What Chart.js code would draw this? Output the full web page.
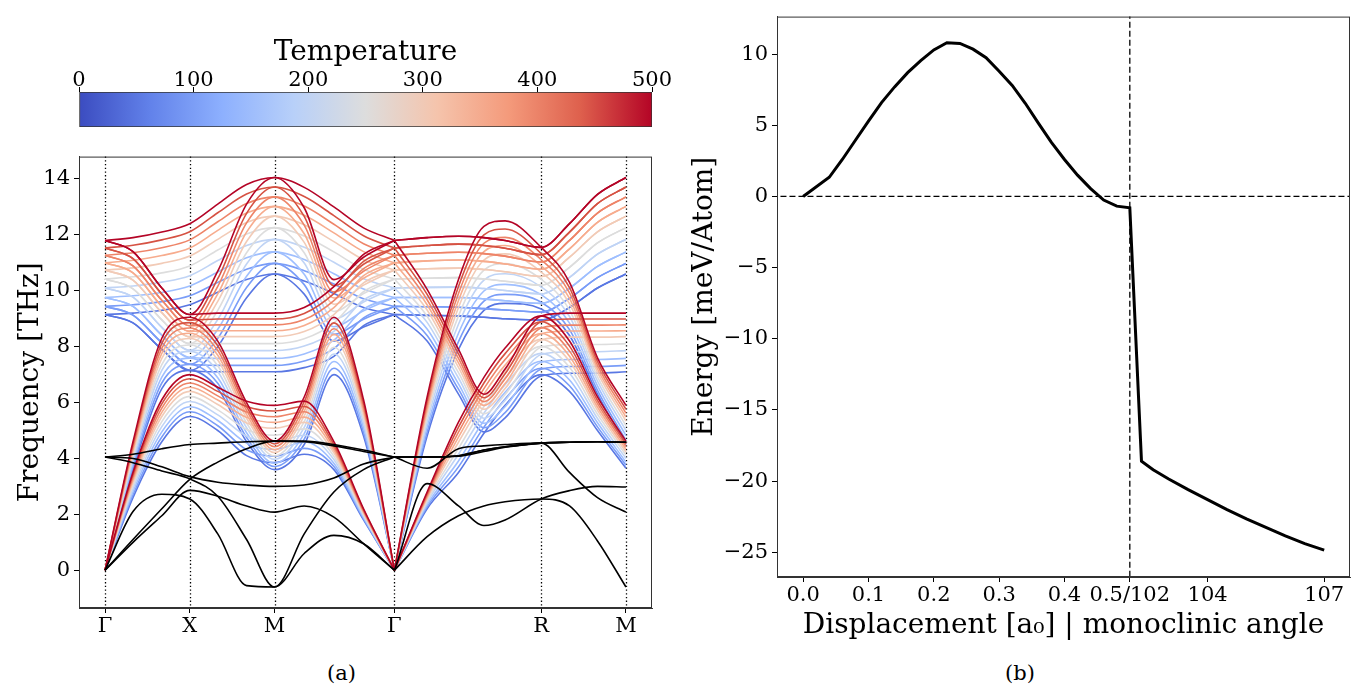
<!DOCTYPE html>
<html>
<head>
<meta charset="utf-8">
<script src="https://cdn.jsdelivr.net/npm/chart.js@4.4.0/dist/chart.umd.min.js"></script>
<style>
  body { margin: 0; background: #fff; }
  #wrap { position: relative; width: 1362px; height: 694px; font-family: 'DejaVu Serif', serif; }
  canvas { position: absolute; }
  .cap { position: absolute; font-size: 21px; color: #000; }
</style>
</head>
<body>
<div id="wrap">
  <canvas id="cbar" style="left:0;top:20px" width="680" height="112"></canvas>
  <canvas id="bands" style="left:0;top:140px" width="680" height="510"></canvas>
  <canvas id="energy" style="left:680px;top:0" width="682" height="643"></canvas>
  <div class="cap" style="left:327px;top:661px">(a)</div>
  <div class="cap" style="left:1005px;top:661px">(b)</div>
</div>
<script>
// ---- (a) phonon bands ----
const kGrid = [0, 0.33, 0.67, 1, 1.33, 1.67, 2, 2.35, 2.7, 3.05, 3.414, 3.8, 4.17, 4.47, 4.72, 5.146, 5.48, 5.81, 6.146];
const symPos = [0, 1, 2, 3.414, 5.146, 6.146];
const symLabels = ['Γ', 'X', 'M', 'Γ', 'R', 'M'];
const temps = [50, 100, 150, 200, 250, 300, 350, 400, 450, 500];
const freqTicks = [0, 2, 4, 6, 8, 10, 12, 14];
const tempTicks = [0, 100, 200, 300, 400, 500];

// one row per temperature (50 K ... 500 K), one value per k point
const bandC1 = [
  [9.15, 9.2, 9.3, 9.5, 9.95, 10.4, 10.6, 10.35, 9.9, 9.4, 9.15, 9.12, 9.1, 9.05, 9.0, 8.95, 9.4, 10.1, 10.6],
  [9.44, 9.5, 9.61, 9.82, 10.3, 10.77, 10.98, 10.72, 10.24, 9.71, 9.44, 9.43, 9.41, 9.36, 9.31, 9.24, 9.73, 10.47, 10.98],
  [9.76, 9.82, 9.94, 10.17, 10.67, 11.18, 11.39, 11.12, 10.61, 10.06, 9.76, 9.76, 9.76, 9.71, 9.64, 9.55, 10.09, 10.87, 11.39],
  [10.1, 10.17, 10.31, 10.54, 11.08, 11.62, 11.84, 11.56, 11.02, 10.43, 10.1, 10.12, 10.13, 10.08, 10.01, 9.89, 10.48, 11.31, 11.84],
  [10.42, 10.5, 10.64, 10.89, 11.46, 12.03, 12.26, 11.96, 11.39, 10.77, 10.42, 10.45, 10.47, 10.42, 10.34, 10.2, 10.84, 11.71, 12.26],
  [10.74, 10.82, 10.98, 11.24, 11.84, 12.44, 12.67, 12.36, 11.76, 11.11, 10.74, 10.79, 10.81, 10.76, 10.68, 10.51, 11.2, 12.11, 12.67],
  [11.0, 11.09, 11.26, 11.53, 12.16, 12.78, 13.02, 12.7, 12.07, 11.4, 11.0, 11.07, 11.1, 11.05, 10.96, 10.77, 11.5, 12.45, 13.02],
  [11.27, 11.36, 11.54, 11.82, 12.47, 13.12, 13.36, 13.03, 12.38, 11.68, 11.27, 11.34, 11.38, 11.33, 11.24, 11.03, 11.8, 12.78, 13.36],
  [11.53, 11.63, 11.82, 12.11, 12.79, 13.46, 13.71, 13.37, 12.69, 11.97, 11.53, 11.62, 11.67, 11.62, 11.52, 11.29, 12.1, 13.12, 13.71],
  [11.8, 11.9, 12.1, 12.4, 13.1, 13.8, 14.05, 13.7, 13.0, 12.25, 11.8, 11.9, 11.95, 11.9, 11.8, 11.55, 12.4, 13.45, 14.05]
];
const bandC2 = [
  [9.15, 8.85, 7.9, 7.15, 7.1, 7.1, 7.1, 7.25, 7.65, 8.75, 9.15, 8.2, 6.3, 4.95, 5.45, 6.95, 7.05, 7.05, 7.1],
  [9.44, 9.13, 8.14, 7.37, 7.33, 7.33, 7.33, 7.49, 7.93, 9.03, 9.44, 8.4, 6.48, 5.1, 5.64, 7.19, 7.29, 7.29, 7.33],
  [9.76, 9.44, 8.41, 7.61, 7.58, 7.58, 7.58, 7.74, 8.23, 9.34, 9.76, 8.63, 6.67, 5.26, 5.85, 7.44, 7.54, 7.54, 7.58],
  [10.1, 9.77, 8.69, 7.87, 7.86, 7.86, 7.86, 8.02, 8.55, 9.67, 10.1, 8.87, 6.88, 5.44, 6.08, 7.72, 7.82, 7.82, 7.86],
  [10.42, 10.07, 8.96, 8.11, 8.11, 8.11, 8.11, 8.28, 8.85, 9.97, 10.42, 9.09, 7.07, 5.6, 6.29, 7.98, 8.08, 8.08, 8.11],
  [10.74, 10.38, 9.22, 8.35, 8.36, 8.36, 8.36, 8.54, 9.15, 10.28, 10.74, 9.31, 7.26, 5.76, 6.5, 8.24, 8.34, 8.34, 8.36],
  [11.0, 10.64, 9.44, 8.55, 8.57, 8.57, 8.57, 8.76, 9.4, 10.54, 11.0, 9.5, 7.42, 5.9, 6.68, 8.46, 8.56, 8.56, 8.57],
  [11.27, 10.89, 9.66, 8.75, 8.78, 8.78, 8.78, 8.97, 9.65, 10.79, 11.27, 9.68, 7.58, 6.03, 6.85, 8.67, 8.77, 8.77, 8.78],
  [11.53, 11.15, 9.88, 8.95, 8.99, 8.99, 8.99, 9.19, 9.9, 11.05, 11.53, 9.87, 7.74, 6.17, 7.03, 8.89, 8.99, 8.99, 8.99],
  [11.8, 11.4, 10.1, 9.15, 9.2, 9.2, 9.2, 9.4, 10.15, 11.3, 11.8, 10.05, 7.9, 6.3, 7.2, 9.1, 9.2, 9.2, 9.2]
];
const bandC3 = [
  [9.15, 8.85, 7.9, 7.15, 8.0, 9.75, 10.6, 9.88, 8.2, 8.7, 9.15, 9.12, 9.1, 9.05, 9.0, 8.95, 9.4, 10.1, 10.6],
  [9.44, 9.13, 8.14, 7.37, 8.3, 10.12, 10.98, 10.22, 8.44, 8.98, 9.44, 9.43, 9.41, 9.36, 9.31, 9.24, 9.73, 10.47, 10.98],
  [9.76, 9.44, 8.41, 7.61, 8.62, 10.52, 11.39, 10.59, 8.71, 9.28, 9.76, 9.76, 9.76, 9.71, 9.64, 9.55, 10.09, 10.87, 11.39],
  [10.1, 9.77, 8.69, 7.87, 8.97, 10.96, 11.84, 10.99, 8.99, 9.6, 10.1, 10.12, 10.13, 10.08, 10.01, 9.89, 10.48, 11.31, 11.84],
  [10.42, 10.07, 8.96, 8.11, 9.3, 11.36, 12.26, 11.36, 9.26, 9.9, 10.42, 10.45, 10.47, 10.42, 10.34, 10.2, 10.84, 11.71, 12.26],
  [10.74, 10.38, 9.22, 8.35, 9.62, 11.76, 12.67, 11.73, 9.52, 10.2, 10.74, 10.79, 10.81, 10.76, 10.68, 10.51, 11.2, 12.11, 12.67],
  [11.0, 10.64, 9.44, 8.55, 9.89, 12.1, 13.02, 12.04, 9.74, 10.45, 11.0, 11.07, 11.1, 11.05, 10.96, 10.77, 11.5, 12.45, 13.02],
  [11.27, 10.89, 9.66, 8.75, 10.16, 12.43, 13.36, 12.35, 9.96, 10.7, 11.27, 11.34, 11.38, 11.33, 11.24, 11.03, 11.8, 12.78, 13.36],
  [11.53, 11.15, 9.88, 8.95, 10.43, 12.77, 13.71, 12.66, 10.18, 10.95, 11.53, 11.62, 11.67, 11.62, 11.52, 11.29, 12.1, 13.12, 13.71],
  [11.8, 11.4, 10.1, 9.15, 10.7, 13.1, 14.05, 12.97, 10.4, 11.2, 11.8, 11.9, 11.95, 11.9, 11.8, 11.55, 12.4, 13.45, 14.05]
];
const bandC4 = [
  [0, 3.6, 6.5, 7.15, 6.5, 4.6, 3.6, 4.5, 7.0, 4.8, 0, 4.8, 7.9, 9.3, 9.55, 9.35, 8.4, 6.3, 4.5],
  [0, 3.71, 6.7, 7.36, 6.69, 4.75, 3.71, 4.69, 7.23, 4.94, 0, 4.95, 8.18, 9.63, 9.87, 9.59, 8.61, 6.44, 4.65],
  [0, 3.83, 6.91, 7.59, 6.89, 4.92, 3.83, 4.89, 7.47, 5.1, 0, 5.12, 8.48, 9.99, 10.23, 9.86, 8.84, 6.6, 4.82],
  [0, 3.96, 7.15, 7.83, 7.11, 5.1, 3.97, 5.11, 7.74, 5.27, 0, 5.3, 8.8, 10.38, 10.61, 10.14, 9.08, 6.77, 5.0],
  [0, 4.08, 7.36, 8.06, 7.32, 5.27, 4.09, 5.32, 7.98, 5.42, 0, 5.47, 9.1, 10.74, 10.97, 10.41, 9.31, 6.92, 5.17],
  [0, 4.2, 7.58, 8.29, 7.52, 5.44, 4.21, 5.52, 8.23, 5.58, 0, 5.64, 9.4, 11.1, 11.32, 10.67, 9.54, 7.08, 5.34],
  [0, 4.3, 7.76, 8.48, 7.69, 5.58, 4.31, 5.69, 8.44, 5.71, 0, 5.78, 9.65, 11.4, 11.62, 10.89, 9.73, 7.21, 5.48],
  [0, 4.4, 7.94, 8.67, 7.86, 5.72, 4.42, 5.86, 8.64, 5.84, 0, 5.92, 9.9, 11.7, 11.91, 11.11, 9.92, 7.34, 5.62],
  [0, 4.5, 8.12, 8.86, 8.03, 5.86, 4.52, 6.03, 8.85, 5.97, 0, 6.06, 10.15, 12.0, 12.21, 11.33, 10.11, 7.47, 5.76],
  [0, 4.6, 8.3, 9.05, 8.2, 6.0, 4.62, 6.2, 9.05, 6.1, 0, 6.2, 10.4, 12.3, 12.5, 11.55, 10.3, 7.6, 5.9]
];
const bandC5 = [
  [0, 2.6, 4.6, 5.5, 5.0, 4.1, 3.85, 4.15, 3.6, 1.8, 0, 2.2, 3.5, 4.9, 5.9, 7.0, 6.4, 5.0, 3.65],
  [0, 2.7, 4.77, 5.67, 5.17, 4.31, 4.08, 4.36, 3.71, 1.84, 0, 2.27, 3.7, 5.12, 6.13, 7.23, 6.6, 5.13, 3.76],
  [0, 2.81, 4.95, 5.85, 5.36, 4.55, 4.32, 4.59, 3.83, 1.89, 0, 2.34, 3.91, 5.36, 6.37, 7.48, 6.81, 5.28, 3.87],
  [0, 2.92, 5.14, 6.04, 5.56, 4.8, 4.59, 4.83, 3.96, 1.94, 0, 2.42, 4.15, 5.62, 6.64, 7.76, 7.05, 5.43, 4.0],
  [0, 3.03, 5.32, 6.22, 5.74, 5.04, 4.83, 5.06, 4.08, 1.99, 0, 2.49, 4.36, 5.86, 6.88, 8.01, 7.26, 5.58, 4.12],
  [0, 3.14, 5.5, 6.4, 5.93, 5.27, 5.08, 5.29, 4.2, 2.04, 0, 2.56, 4.58, 6.1, 7.13, 8.26, 7.48, 5.72, 4.23],
  [0, 3.23, 5.65, 6.55, 6.09, 5.47, 5.29, 5.48, 4.3, 2.08, 0, 2.62, 4.76, 6.3, 7.34, 8.47, 7.66, 5.84, 4.33],
  [0, 3.32, 5.8, 6.7, 6.24, 5.66, 5.49, 5.67, 4.4, 2.12, 0, 2.68, 4.94, 6.5, 7.54, 8.68, 7.84, 5.96, 4.43],
  [0, 3.41, 5.95, 6.85, 6.4, 5.86, 5.7, 5.86, 4.5, 2.16, 0, 2.74, 5.12, 6.7, 7.75, 8.89, 8.02, 6.08, 4.52],
  [0, 3.5, 6.1, 7.0, 6.55, 6.05, 5.9, 6.05, 4.6, 2.2, 0, 2.8, 5.3, 6.9, 7.95, 9.1, 8.2, 6.2, 4.62]
];
// harmonic (black) bands
const blackBands = [
  [4.05, 4.15, 4.35, 4.5, 4.55, 4.6, 4.62, 4.62, 4.5, 4.3, 4.05, 4.05, 4.08, 4.25, 4.4, 4.55, 4.58, 4.6, 4.58],
  [4.05, 4.0, 3.7, 3.35, 3.15, 3.05, 3.0, 3.05, 3.3, 3.8, 4.05, 3.65, 4.35, 4.45, 4.5, 4.55, 3.5, 2.6, 2.08],
  [0, 1.0, 1.95, 2.86, 2.65, 2.3, 2.08, 2.3, 1.9, 0.95, 0, 3.1, 2.3, 1.6, 1.8, 2.55, 2.85, 3.0, 2.98],
  [0, 2.1, 2.72, 2.55, 1.3, -0.55, -0.6, 0.6, 1.25, 0.95, 0, 1.2, 1.95, 2.3, 2.45, 2.55, 2.3, 1.05, -0.6],
  [0, 1.1, 2.2, 3.25, 3.87, 4.35, 4.62, 4.6, 4.45, 4.25, 4.05, 4.05, 4.1, 4.3, 4.42, 4.55, 4.58, 4.6, 4.58],
  [4.05, 3.85, 3.55, 3.27, 2.65, 1.1, -0.6, 1.3, 2.8, 3.6, 4.05, 4.05, 4.1, 4.3, 4.42, 4.55, 4.58, 4.6, 4.58]
];

// ---- (b) energy curve ----
const dispX = [0, 0.04, 0.06, 0.08, 0.10, 0.12, 0.14, 0.16, 0.18, 0.20, 0.22, 0.24, 0.26, 0.28, 0.30, 0.32, 0.34, 0.36, 0.38, 0.40, 0.42, 0.44, 0.46, 0.48, 0.50];
const dispE = [0, 1.35, 2.6, 3.95, 5.3, 6.6, 7.7, 8.7, 9.55, 10.3, 10.8, 10.75, 10.35, 9.75, 8.8, 7.8, 6.55, 5.15, 3.8, 2.6, 1.5, 0.55, -0.25, -0.68, -0.8];
const angleX = [102.3, 102.6, 103, 103.5, 104, 104.5, 105, 105.5, 106, 106.5, 107];
const angleE = [-18.6, -19.2, -19.85, -20.6, -21.3, -22.0, -22.65, -23.25, -23.85, -24.4, -24.85];
const dispTicks = [0, 0.1, 0.2, 0.3, 0.4];
const angleTicks = [104, 107];
const energyTicks = [-25, -20, -15, -10, -5, 0, 5, 10];

// coolwarm colours, one per temperature
const tempColors = ['#5977e3', '#7a9df8', '#9fbfff', '#c0d4f5', '#dddddd', '#f2cbb7', '#f7ac8e', '#ee8468', '#d65243', '#b40426'];
const coolwarm = [[0, '#3b4cc0'], [0.125, '#6282ea'], [0.25, '#8db0fe'], [0.375, '#b8d0f9'], [0.5, '#dddddd'],
  [0.625, '#f5c4ac'], [0.75, '#f49a7b'], [0.875, '#de604d'], [1, '#b40426']];

const FONT = "'DejaVu Serif', serif";
const tickFont = { family: FONT, size: 21 };
const titleFont = { family: FONT, size: 28 };

const framePlugin = {
  id: 'frame',
  afterDraw(chart) {
    const a = chart.chartArea, c = chart.ctx;
    c.save();
    c.strokeStyle = '#333';
    c.lineWidth = 1;
    c.strokeRect(a.left + 0.5, a.top + 0.5, a.right - a.left - 1, a.bottom - a.top - 1);
    c.restore();
  }
};

const symLinePlugin = {
  id: 'symLines',
  beforeDatasetsDraw(chart) {
    const a = chart.chartArea, c = chart.ctx, xs = chart.scales.x;
    c.save();
    c.strokeStyle = '#000';
    c.lineWidth = 1.3;
    c.setLineDash([1.3, 2.4]);
    symPos.forEach(p => {
      const x = Math.round(xs.getPixelForValue(p)) + 0.5;
      c.beginPath();
      c.moveTo(x, a.top);
      c.lineTo(x, a.bottom);
      c.stroke();
    });
    c.restore();
  }
};

// colour bar
new Chart(document.getElementById('cbar'), {
  type: 'bar',
  data: {
    labels: [''],
    datasets: [{
      data: [[tempTicks[0], tempTicks[tempTicks.length - 1]]],
      backgroundColor(ctx) {
        const area = ctx.chart.chartArea;
        if (!area) return '#ddd';
        const g = ctx.chart.ctx.createLinearGradient(area.left, 0, area.right, 0);
        coolwarm.forEach(([s, col]) => g.addColorStop(s, col));
        return g;
      },
      borderColor: '#333',
      borderWidth: 1,
      borderSkipped: false,
      barPercentage: 1,
      categoryPercentage: 1
    }]
  },
  options: {
    indexAxis: 'y',
    responsive: false,
    animation: false,
    layout: { padding: { left: 79, right: 28, top: 0, bottom: 5 } },
    plugins: { legend: { display: false }, tooltip: { enabled: false } },
    scales: {
      x: {
        type: 'linear', position: 'top', min: 0, max: 500,
        afterBuildTicks(s) { s.ticks = tempTicks.map(v => ({ value: v })); },
        afterFit(s) { s.height = 72; },
        ticks: { color: '#000', font: { family: FONT, size: 21, lineHeight: 1 }, padding: -4 },
        title: { display: true, text: 'Temperature', color: '#000', font: titleFont, padding: { top: 16, bottom: 0 } },
        grid: { drawOnChartArea: false, drawTicks: true, tickLength: 5, color: '#000' },
        border: { display: false }
      },
      y: { display: false }
    }
  }
});

// band structure
const bandDatasets = [];
const halves = [[0, 10], [10, 18]];
[bandC1, bandC2, bandC3, bandC4, bandC5].forEach(tbl => {
  tbl.forEach((row, ti) => {
    halves.forEach(([a, b]) => {
      bandDatasets.push({
        data: kGrid.slice(a, b + 1).map((k, j) => ({ x: k, y: row[a + j] })),
        borderColor: tempColors[ti],
        borderWidth: 1.6,
        pointRadius: 0,
        cubicInterpolationMode: 'monotone',
        order: 20 - ti
      });
    });
  });
});
blackBands.forEach(row => {
  halves.forEach(([a, b]) => {
    bandDatasets.push({
      data: kGrid.slice(a, b + 1).map((k, j) => ({ x: k, y: row[a + j] })),
      borderColor: '#000',
      borderWidth: 1.6,
      pointRadius: 0,
      cubicInterpolationMode: 'monotone',
      order: 0
    });
  });
});

new Chart(document.getElementById('bands'), {
  type: 'line',
  data: { datasets: bandDatasets },
  options: {
    responsive: false,
    animation: false,
    layout: { padding: { left: 0, right: 28, top: 15, bottom: 0 } },
    plugins: { legend: { display: false }, tooltip: { enabled: false } },
    scales: {
      x: {
        type: 'linear', min: -0.307, max: 6.453,
        afterBuildTicks(s) { s.ticks = symPos.map(v => ({ value: v })); },
        afterFit(s) { s.height = 42; },
        ticks: { color: '#000', font: tickFont, padding: 1, maxRotation: 0, autoSkip: false,
          callback: (v, i) => symLabels[i] },
        grid: { drawOnChartArea: false, drawTicks: true, tickLength: 5, color: '#000' },
        border: { display: true, color: '#333' }
      },
      y: {
        min: -1.35, max: 14.8,
        afterBuildTicks(s) { s.ticks = freqTicks.map(v => ({ value: v })); },
        afterFit(s) { s.width = 79; },
        ticks: { color: '#000', font: tickFont, padding: 4 },
        title: { display: true, text: 'Frequency [THz]', color: '#000', font: titleFont, padding: { top: 14, bottom: 0 } },
        grid: { drawOnChartArea: false, drawTicks: true, tickLength: 5, color: '#000' },
        border: { display: true, color: '#333' }
      }
    }
  },
  plugins: [symLinePlugin, framePlugin]
});

// energy curve
const angleToAxis = a => 0.5 + (a - 102) * 0.0595;
const energyPts = dispX.map((x, i) => ({ x, y: dispE[i] }))
  .concat(angleX.map((a, i) => ({ x: angleToAxis(a), y: angleE[i] })));
const bottomTicks = dispTicks.map(v => ({ value: v, label: v.toFixed(1) }))
  .concat([{ value: 0.5, label: '0.5/102' }])
  .concat(angleTicks.map(a => ({ value: angleToAxis(a), label: String(a) })));

new Chart(document.getElementById('energy'), {
  type: 'line',
  data: {
    datasets: [
      { data: energyPts, borderColor: '#000', borderWidth: 3, pointRadius: 0, tension: 0, order: 0 },
      { data: [{ x: -0.2, y: 0 }, { x: 1, y: 0 }], borderColor: '#000', borderWidth: 1.3, borderDash: [6, 3], pointRadius: 0, order: 1 },
      { data: [{ x: 0.5, y: -40 }, { x: 0.5, y: 20 }], borderColor: '#000', borderWidth: 1.3, borderDash: [6, 3], pointRadius: 0, order: 1 }
    ]
  },
  options: {
    responsive: false,
    animation: false,
    layout: { padding: { left: 0, right: 12, top: 6, bottom: 0 } },
    plugins: { legend: { display: false }, tooltip: { enabled: false } },
    scales: {
      x: {
        type: 'linear', min: -0.04, max: 0.837,
        afterBuildTicks(s) { s.ticks = bottomTicks.map(t => ({ value: t.value })); },
        afterFit(s) { s.height = 66; },
        ticks: { color: '#000', font: tickFont, padding: 1, maxRotation: 0, autoSkip: false,
          callback: (v, i) => bottomTicks[i].label },
        title: { display: true, text: 'Displacement [a₀] | monoclinic angle', color: '#000', font: titleFont, padding: { top: 0, bottom: 0 } },
        grid: { drawOnChartArea: false, drawTicks: true, tickLength: 5, color: '#000' },
        border: { display: true, color: '#333' }
      },
      y: {
        min: -26.74, max: 12.64,
        afterBuildTicks(s) { s.ticks = energyTicks.map(v => ({ value: v })); },
        afterFit(s) { s.width = 97; },
        ticks: { color: '#000', font: tickFont, padding: 4,
          callback: v => (v < 0 ? '\u2212' + Math.abs(v) : String(v)) },
        title: { display: true, text: 'Energy [meV/Atom]', color: '#000', font: titleFont, padding: { top: 8, bottom: 0 } },
        grid: { drawOnChartArea: false, drawTicks: true, tickLength: 5, color: '#000' },
        border: { display: true, color: '#333' }
      }
    }
  },
  plugins: [framePlugin]
});
</script>
</body>
</html>
